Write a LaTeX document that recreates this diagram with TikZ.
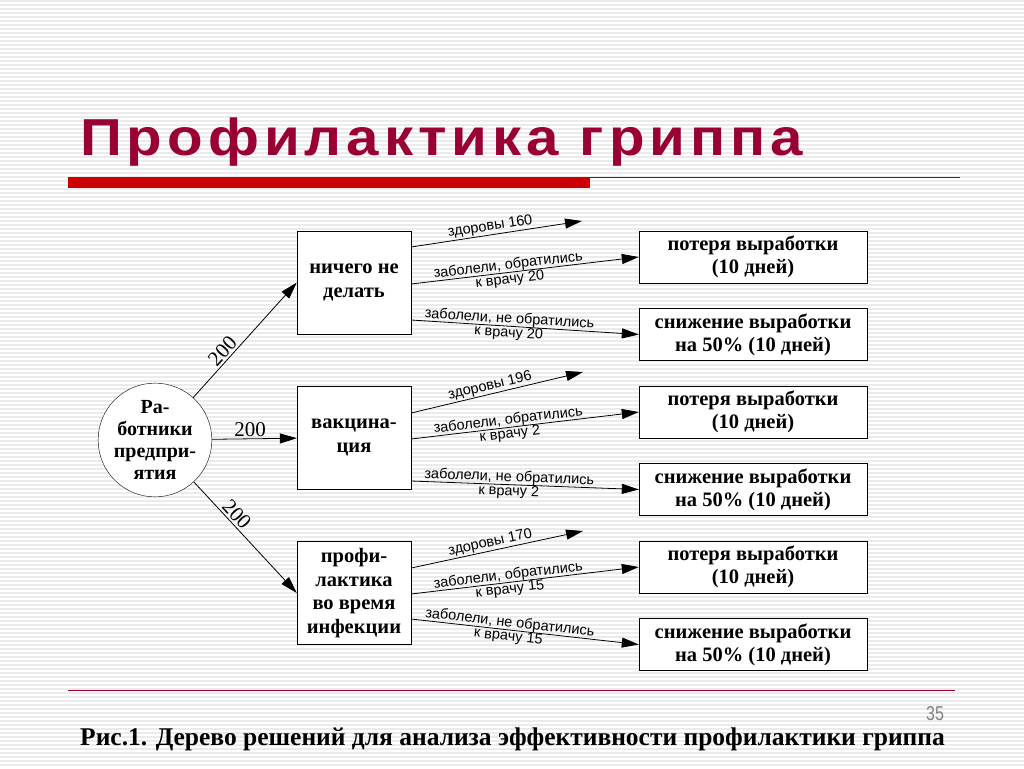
\documentclass[tikz,border=0pt]{standalone}
\usepackage{fontspec}
\setmainfont{Liberation Serif}
\setsansfont{Liberation Sans}
\newfontfamily\titlefont[LetterSpace=8.5]{Liberation Sans}
\usetikzlibrary{arrows.meta,calc}
\definecolor{titlered}{RGB}{153,0,51}
\definecolor{barred}{RGB}{204,0,0}
\tikzset{
  box/.style={draw, fill=white, inner sep=0pt, align=center,
    font=\bfseries\fontsize{20.5}{23}\selectfont},
  leftbox/.style={box, minimum width=114pt, minimum height=103pt,
    font=\bfseries\fontsize{20.5}{23.7}\selectfont},
  outbox/.style={box, minimum width=228pt, minimum height=52pt},
  arr/.style={-{Triangle[length=17pt,width=10pt]}, line width=0.8pt},
  lbl/.style={sloped, font=\sffamily\fontsize{14.5}{12}\selectfont,
    inner sep=1pt, align=center},
  cnt/.style={font=\fontsize{21}{21}\selectfont, inner sep=2pt}
}
\begin{document}
\begin{tikzpicture}[x=1pt, y=-1pt]
  \useasboundingbox (0,0) rectangle (1024,768);
  %--- background stripes ---
  \fill[white] (0,0) rectangle (1024,768);
  \foreach \y in {1,5,...,767}
    \draw[gray!16, line width=1.2pt] (0,\y) -- (1024,\y);
  %--- title ---
  \node[anchor=base west, text=titlered, inner sep=0pt, xscale=1.12,
    font=\titlefont\bfseries\fontsize{52}{60}\selectfont] (title) at (80,155)
    {Профилактика гриппа};
  \fill[barred] (68,177) rectangle (590,188);
  \draw[titlered, line width=1pt] (590,177) -- (960,177);
  %--- root and strategies ---
  \node[circle, draw, fill=white, minimum size=96pt, inner sep=0pt, align=center,
    font=\bfseries\fontsize{20}{22}\selectfont] (w) at (155,440)
    {Ра-\\ботники\\предпри-\\ятия};
  \node[leftbox] (b1) at (354,282.5) {ничего не\\делать};
  \node[leftbox] (b2) at (354,437.5) {вакцина-\\ция};
  \node[leftbox] (b3) at (354,593) {профи-\\лактика\\во время\\инфекции};
  \draw[arr] (w) -- node[cnt, sloped, above, pos=0.35] {200} (b1.west);
  \draw[arr] (w) -- node[cnt, above, pos=0.45] {200} (b2);
  \draw[arr] (w) -- node[cnt, sloped, above, pos=0.35] {200} (b3.west);
  %--- outcomes ---
  \node[outbox] (r1) at (753,257) {потеря выработки\\(10 дней)};
  \node[outbox] (r2) at (753,334.5) {снижение выработки\\на 50\% (10 дней)};
  \node[outbox] (r3) at (753,412) {потеря выработки\\(10 дней)};
  \node[outbox] (r4) at (753,489.5) {снижение выработки\\на 50\% (10 дней)};
  \node[outbox] (r5) at (753,567) {потеря выработки\\(10 дней)};
  \node[outbox] (r6) at (753,644.5) {снижение выработки\\на 50\% (10 дней)};
  % free ends of the healthy branches
  \coordinate (h1) at (582,221);
  \coordinate (h2) at (583,372);
  \coordinate (h3) at (583,531);
  %--- branches ---
  \foreach \i/\ra/\rb/\da/\db/\dc/\nh/\nt in {1/r1/r2/-35.5/1.5/37.5/160/20,
                                               2/r3/r4/-24.5/1.5/43.5/196/2,
                                               3/r5/r6/-25/1/26/170/15} {
    \draw[arr] ($(b\i.east)+(0,\da)$) -- node[lbl, above, pos=0.47]
      {здоровы \nh} (h\i);
    \draw[arr] ($(b\i.east)+(0,\db)$) -- node[lbl, pos=0.43]
      {заболели, обратились\\к врачу \nt} (\ra.west);
    \draw[arr] ($(b\i.east)+(0,\dc)$) -- node[lbl, pos=0.43]
      {заболели, не обратились\\к врачу \nt} (\rb.west);
  }
  %--- footer ---
  \draw[titlered, line width=1pt] (68,690) -- (955,690);
  \node[text=gray, xscale=0.8, font=\sffamily\fontsize{20}{20}\selectfont] (page) at (935,714) {35};
  \node[anchor=base west, inner sep=0pt, font=\bfseries\fontsize{25.5}{28}\selectfont]
    (caption) at (80,745)
    {Рис.1. Дерево решений для анализа эффективности профилактики гриппа};
\end{tikzpicture}
\end{document}
